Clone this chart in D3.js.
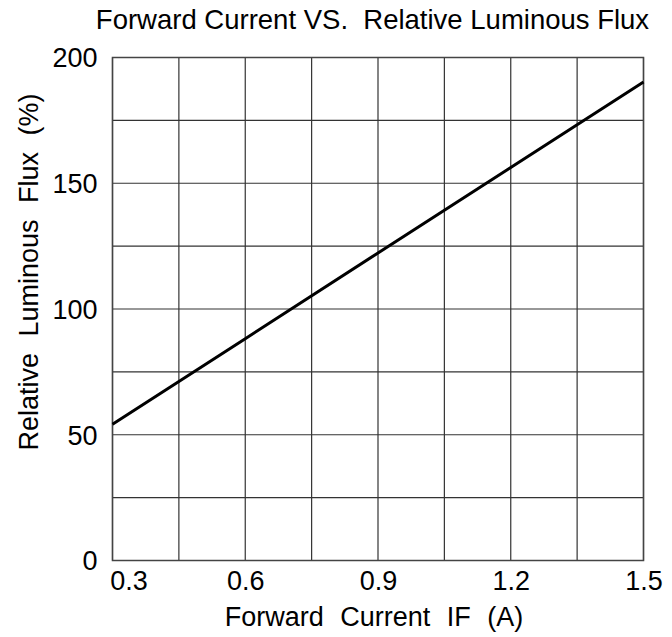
<!DOCTYPE html>
<html><head><meta charset="utf-8">
<script src="https://cdn.jsdelivr.net/npm/d3@7"></script>
<style>body{margin:0;background:#fff}svg{display:block}text{font-family:"Liberation Sans",Arial,sans-serif;fill:#000}</style>
</head><body>
<script>
const currentA = [0.3, 0.6, 0.9, 1.2, 1.5];
const relFlux = [54.2, 88.2, 122.3, 156.3, 190.3];
const xTicks = [0.3, 0.6, 0.9, 1.2, 1.5];
const yTicks = [0, 50, 100, 150, 200];
const xGrid = [0.3, 0.45, 0.6, 0.75, 0.9, 1.05, 1.2, 1.35, 1.5];
const yGrid = [0, 25, 50, 75, 100, 125, 150, 175, 200];

const W = 672, H = 637;
const m = {l: 112.5, r: 28.5, t: 57.5, b: 76.5};
const svg = d3.select("body").append("svg").attr("width", W).attr("height", H);
const x = d3.scaleLinear().domain([0.3, 1.5]).range([m.l, W - m.r]);
const y = d3.scaleLinear().domain([0, 200]).range([H - m.b, m.t]);

const g = svg.append("g");
g.selectAll(".vg").data(xGrid).join("line")
  .attr("x1", d => x(d)).attr("x2", d => x(d)).attr("y1", y(0)).attr("y2", y(200))
  .attr("stroke", "#333").attr("stroke-width", 1.2);
g.selectAll(".hg").data(yGrid).join("line")
  .attr("y1", d => y(d)).attr("y2", d => y(d)).attr("x1", x(0.3)).attr("x2", x(1.5))
  .attr("stroke", "#333").attr("stroke-width", 1.2);
g.append("rect").attr("x", x(0.3)).attr("y", y(200)).attr("width", x(1.5) - x(0.3)).attr("height", y(0) - y(200))
  .attr("fill", "none").attr("stroke", "#444").attr("stroke-width", 1.5);

const xAxis = d3.axisBottom(x).tickValues(xTicks).tickSize(0).tickFormat(d3.format(".1f"));
const xa = svg.append("g").attr("transform", `translate(0,${y(0)})`).call(xAxis);
xa.select(".domain").remove();
xa.selectAll("text").attr("font-size", 27).attr("dy", 0).attr("y", 29).attr("font-family", "Liberation Sans")
  .attr("dx", (d, i) => i === 0 ? 16 : 0);

const yAxis = d3.axisLeft(y).tickValues(yTicks).tickSize(0);
const ya = svg.append("g").attr("transform", `translate(${x(0.3)},0)`).call(yAxis);
ya.select(".domain").remove();
ya.selectAll("text").attr("font-size", 27).attr("x", -15).attr("dy", "0.35em").attr("font-family", "Liberation Sans");

svg.append("path").datum(currentA.map((c, i) => [c, relFlux[i]]))
  .attr("d", d3.line().x(d => x(d[0])).y(d => y(d[1])))
  .attr("fill", "none").attr("stroke", "#000").attr("stroke-width", 3);

svg.append("text").attr("x", 372.5).attr("y", 29).attr("text-anchor", "middle").attr("font-size", 27.5)
  .attr("xml:space", "preserve").text("Forward Current VS.  Relative Luminous Flux");
svg.append("text").attr("x", 374).attr("y", 626).attr("text-anchor", "middle").attr("font-size", 27)
  .attr("word-spacing", 9).text("Forward Current IF (A)");
svg.append("text").attr("transform", "translate(38,272) rotate(-90)").attr("text-anchor", "middle").attr("font-size", 27)
  .attr("word-spacing", 9).text("Relative Luminous Flux (%)");
</script>
</body></html>
